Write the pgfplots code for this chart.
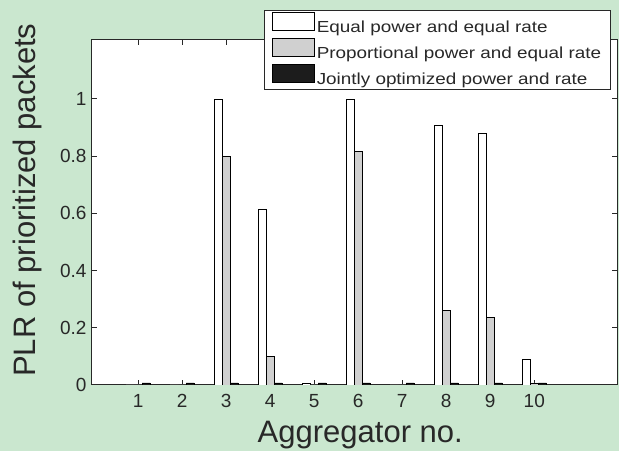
\documentclass[border=0pt]{standalone}
\usepackage{fontspec}
\setmainfont{Liberation Sans}
\newfontfamily\legfont[FakeStretch=1.18]{Liberation Sans}
\usepackage{pgfplots}
\pgfplotsset{compat=1.18}
\definecolor{bg}{RGB}{202,231,207}
\definecolor{barg}{RGB}{208,208,208}
\definecolor{bark}{RGB}{28,28,28}
\definecolor{txt}{RGB}{40,40,40}
\begin{document}
\begin{tikzpicture}[x=1pt,y=1pt]
\fill[bg] (0,0) rectangle (619,451);
\begin{axis}[at={(92pt,66pt)}, anchor=south west, scale only axis,
  width=525pt, height=345pt,
  axis background/.style={fill=white},
  xmin=-0.05, xmax=11.88, ymin=0, ymax=1.206,
  ybar=0pt, bar width=8pt,
  axis line style={line width=1pt, color=txt},
  xtick={1,2,3,4,5,6,7,8,9,10},
  ytick={0,0.2,0.4,0.6,0.8,1},
  yticklabels={0,0.2,0.4,0.6,0.8,1},
  tick align=inside, major tick length=5pt,
  tick style={line width=1pt, color=txt},
  /pgf/number format/assume math mode=true,
  ticklabel style={font=\fontsize{19}{21}\selectfont, text=txt},
  xticklabel style={yshift=-6pt},
  yticklabel style={xshift=-2pt},
  xlabel={Aggregator no.}, ylabel={PLR of prioritized packets},
  every axis y label/.style={at={(axis description cs:-0.122,0.536)}, rotate=90, anchor=center, font=\fontsize{31}{33}\selectfont, text=txt},
  every axis x label/.style={at={(axis description cs:0.511,-0.168)}, anchor=base, font=\fontsize{31}{33}\selectfont, text=txt},
  legend style={at={(axis description cs:0.988,1.087)}, anchor=north east,
    font=\legfont\fontsize{16}{18}\selectfont, text=txt, draw=txt, line width=1pt, fill=white,
    inner xsep=7pt, inner ysep=1.5pt, row sep=1.5pt, cells={anchor=west}},
  legend image code/.code={\draw[#1,line width=0.8pt] (0pt,-3pt) rectangle (42pt,15.5pt);},
]
\addplot[fill=white, draw=black, line width=0.8pt] coordinates {(1,0) (2,0) (3,1.0) (4,0.615) (5,0.007) (6,1.0) (7,0) (8,0.907) (9,0.878) (10,0.09)};
\addplot[fill=barg, draw=black, line width=0.8pt] coordinates {(1,0) (2,0) (3,0.80) (4,0.10) (5,0) (6,0.815) (7,0) (8,0.26) (9,0.237) (10,0.007)};
\addplot[fill=bark, draw=black, line width=0.8pt] coordinates {(1,0.007) (2,0.007) (3,0.007) (4,0.007) (5,0.007) (6,0.007) (7,0.007) (8,0.007) (9,0.007) (10,0.007)};
\legend{Equal power and equal rate, Proportional power and equal rate, Jointly optimized power and rate}
\end{axis}
\end{tikzpicture}
\end{document}
